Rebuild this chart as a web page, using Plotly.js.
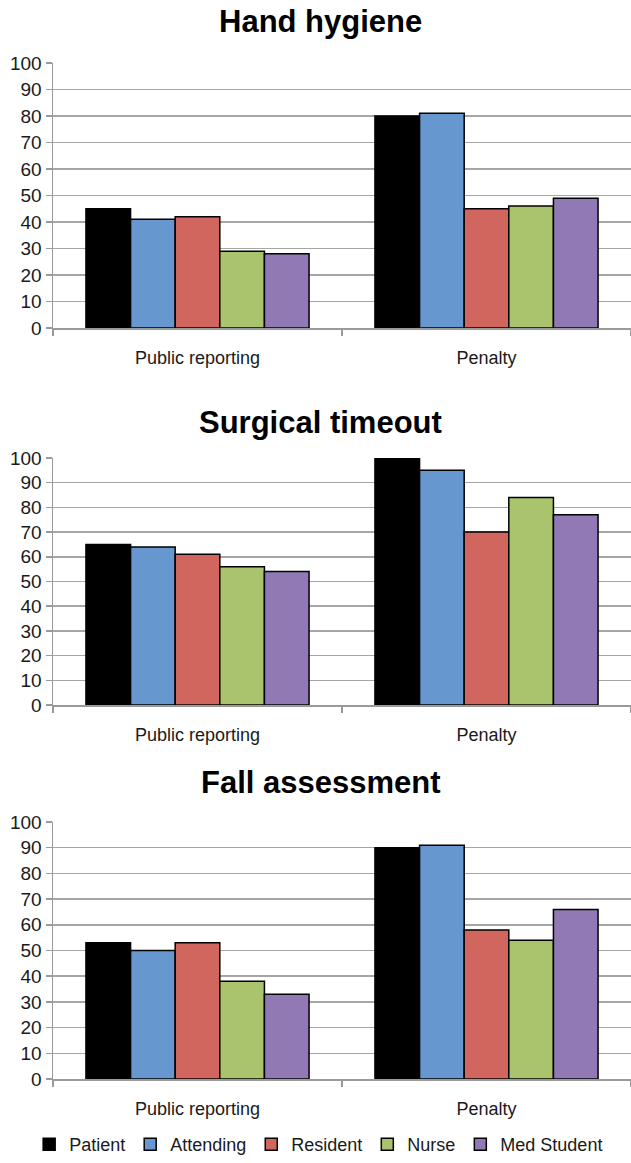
<!DOCTYPE html>
<html>
<head>
<meta charset="utf-8">
<script src="https://cdn.plot.ly/plotly-3.0.1.min.js"></script>
<style>html,body{margin:0;padding:0;background:#fff;overflow:hidden;}#chart{width:631px;height:1163px;}</style>
</head>
<body>
<div id="chart"></div>
<script>
const categories = ["Public reporting", "Penalty"];
const seriesNames = ["Patient", "Attending", "Resident", "Nurse", "Med Student"];
const seriesColors = ["#000000", "#6697cf", "#d0665e", "#a9c46c", "#9179b5"];
const panelTitles = ["Hand hygiene", "Surgical timeout", "Fall assessment"];

// values per panel, per series: [Public reporting, Penalty]
const handPatient = [45, 80];
const handAttending = [41, 81];
const handResident = [42, 45];
const handNurse = [29, 46];
const handMedStudent = [28, 49];

const surgPatient = [65, 100];
const surgAttending = [64, 95];
const surgResident = [61, 70];
const surgNurse = [56, 84];
const surgMedStudent = [54, 77];

const fallPatient = [53, 90];
const fallAttending = [50, 91];
const fallResident = [53, 58];
const fallNurse = [38, 54];
const fallMedStudent = [33, 66];

const yTickVals = [0, 10, 20, 30, 40, 50, 60, 70, 80, 90, 100];

const panels = [
  [handPatient, handAttending, handResident, handNurse, handMedStudent],
  [surgPatient, surgAttending, surgResident, surgNurse, surgMedStudent],
  [fallPatient, fallAttending, fallResident, fallNurse, fallMedStudent]
];

const H = 1163;
const domains = [
  [1 - 328 / H, 1 - 63 / H],
  [1 - 705 / H, 1 - 458 / H],
  [1 - 1079 / H, 1 - 822 / H]
];
const titleY = [22, 422, 782];

const font = "Liberation Sans, Arial, sans-serif";
const traces = [];
panels.forEach((panel, p) => {
  panel.forEach((vals, s) => {
    traces.push({
      type: "bar",
      x: categories,
      y: vals,
      name: seriesNames[s],
      legendgroup: seriesNames[s],
      showlegend: p === 0,
      marker: { color: seriesColors[s], line: { color: "#000000", width: 1.5 } },
      xaxis: p === 0 ? "x" : "x" + (p + 1),
      yaxis: p === 0 ? "y" : "y" + (p + 1),
      hoverinfo: "skip"
    });
  });
});

const layout = {
  width: 631,
  height: 1163,
  margin: { l: 0, r: 0, t: 0, b: 0 },
  paper_bgcolor: "#ffffff",
  plot_bgcolor: "#ffffff",
  font: { family: font, size: 18, color: "#1a1a1a" },
  barmode: "group",
  bargap: 0.228,
  bargroupgap: 0,
  showlegend: true,
  legend: {
    orientation: "h",
    x: 0.505, xanchor: "center",
    y: 0, yanchor: "bottom",
    font: { family: font, size: 18, color: "#1a1a1a" },
    itemwidth: 30,
    traceorder: "normal"
  },
  annotations: []
};

panels.forEach((panel, p) => {
  const xa = p === 0 ? "xaxis" : "xaxis" + (p + 1);
  const ya = p === 0 ? "yaxis" : "yaxis" + (p + 1);
  layout[xa] = {
    domain: [53 / 631, 1],
    anchor: p === 0 ? "y" : "y" + (p + 1),
    type: "category",
    showline: true,
    linecolor: "#9a9a9a",
    linewidth: 1.5,
    ticks: "outside",
    tickson: "boundaries",
    ticklen: 6,
    tickcolor: "#9a9a9a",
    tickwidth: 1.5,
    ticklabelstandoff: 13,
    showgrid: false,
    tickfont: { family: font, size: 18, color: "#1a1a1a" },
    automargin: false,
    fixedrange: true
  };
  layout[ya] = {
    domain: domains[p],
    anchor: p === 0 ? "x" : "x" + (p + 1),
    range: [0, 100],
    tickvals: yTickVals,
    ticktext: yTickVals.map(String),
    showline: true,
    linecolor: "#9a9a9a",
    linewidth: 1.5,
    ticks: "outside",
    ticklen: 6,
    tickcolor: "#9a9a9a",
    tickwidth: 1.5,
    showgrid: true,
    gridcolor: "#a6a6a6",
    gridwidth: 1.5,
    zeroline: false,
    tickfont: { family: font, size: 19, color: "#1a1a1a" },
    automargin: false,
    fixedrange: true
  };
  layout.annotations.push({
    text: "<b>" + panelTitles[p] + "</b>",
    xref: "paper", yref: "paper",
    x: 0.508, y: 1 - titleY[p] / H,
    xanchor: "center", yanchor: "middle",
    showarrow: false,
    font: { family: font, size: 31, color: "#000000" }
  });
});

Plotly.newPlot("chart", traces, layout, { staticPlot: true, displayModeBar: false });
</script>
</body>
</html>
